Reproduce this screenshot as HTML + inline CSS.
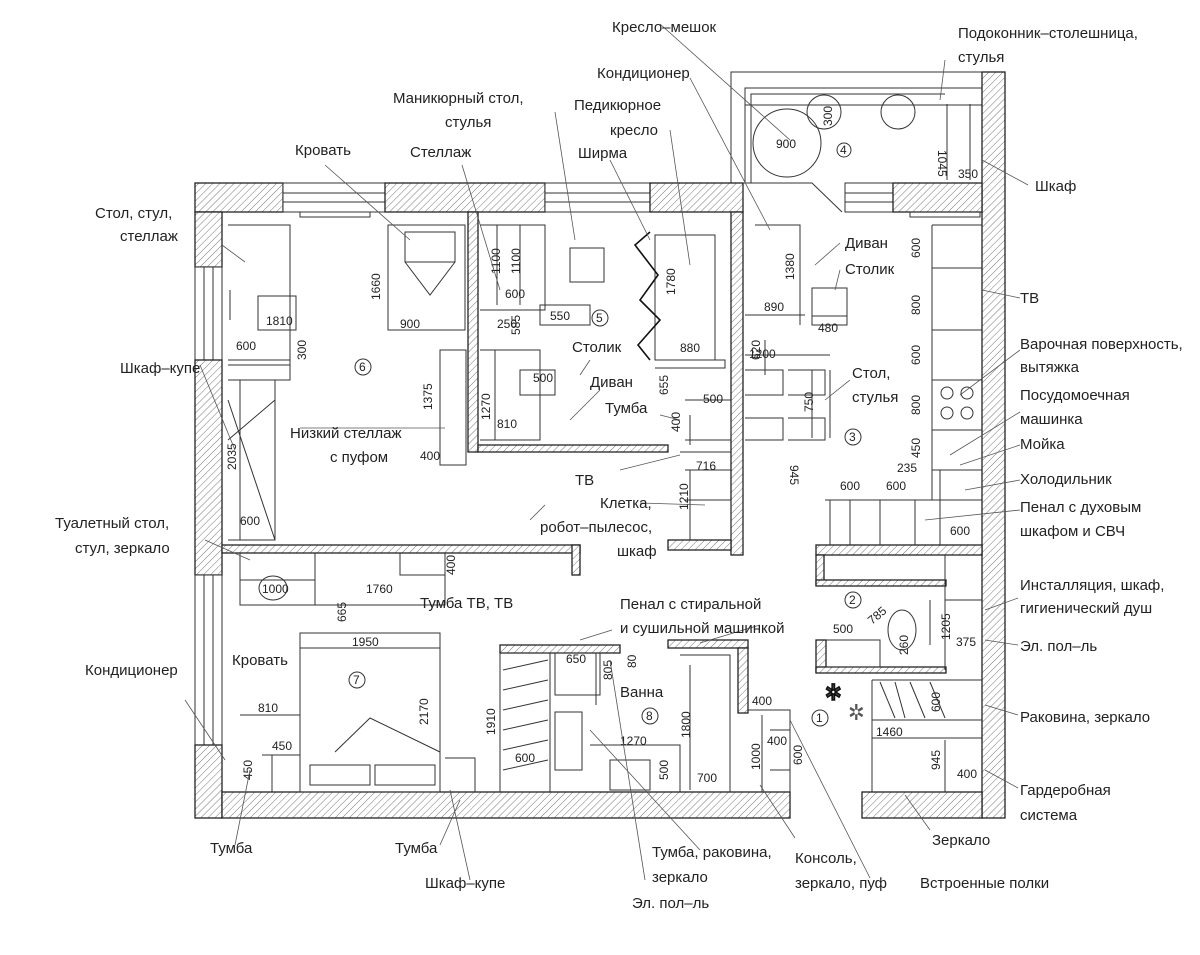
<!DOCTYPE html>
<html><head><meta charset="utf-8"><style>
html,body{margin:0;padding:0;background:#fff}
svg{display:block}
text{font-family:"Liberation Sans Narrow","Liberation Sans","DejaVu Sans Condensed",sans-serif;fill:#222}
.l{font-size:15px}
.d{font-size:12px}
.w{fill:url(#h);stroke:#222;stroke-width:1.3}
.f{fill:none;stroke:#333;stroke-width:1}
.k{fill:none;stroke:#111;stroke-width:1.6}
.ld{stroke:#555;stroke-width:0.8;fill:none}
.win{fill:#fff;stroke:#333;stroke-width:1}
</style></head><body>
<svg width="1200" height="955" viewBox="0 0 1200 955" xmlns="http://www.w3.org/2000/svg">
<defs><pattern id="h" width="5" height="5" patternUnits="userSpaceOnUse" patternTransform="rotate(45)"><rect width="5" height="5" fill="#fff"/><line x1="0" y1="0" x2="0" y2="5" stroke="#777" stroke-width="1"/></pattern></defs>

<!-- balcony -->
<path class="f" d="M731 183 V72 H982 M745 183 V88 H982 M751 183 V94 H945 M745 105 H982"/>
<rect class="w" x="982" y="72" width="23" height="746"/>
<circle class="f" cx="787" cy="143" r="34"/><circle class="f" cx="824" cy="112" r="17"/><circle class="f" cx="898" cy="112" r="17"/>
<text class="d" x="776" y="148">900</text><text class="d" x="832" y="126" transform="rotate(-90 832 126)">300</text>
<circle class="f" cx="844" cy="150" r="7"/><text class="d" x="840" y="154">4</text>
<path class="f" d="M947 104 V180 M970 104 V180"/><text class="d" x="958" y="178">350</text><text class="d" x="938" y="150" transform="rotate(90 938 150)">1045</text>

<!-- top wall -->
<rect class="w" x="195" y="183" width="88" height="29"/>
<rect class="win" x="283" y="183" width="102" height="29"/><path class="f" d="M283 193H385M283 202H385"/>
<rect class="w" x="385" y="183" width="160" height="29"/>
<rect class="win" x="545" y="183" width="105" height="29"/><path class="f" d="M545 193H650M545 202H650"/>
<rect class="w" x="650" y="183" width="93" height="29"/>
<path class="f" d="M743 183H812L842 212"/>
<rect class="win" x="845" y="183" width="48" height="29"/><path class="f" d="M845 193H893M845 202H893"/>
<rect class="w" x="893" y="183" width="89" height="29"/>
<rect class="f" x="300" y="212" width="70" height="5"/><rect class="f" x="910" y="212" width="70" height="5"/>

<!-- left wall -->
<rect class="w" x="195" y="212" width="27" height="55"/>
<rect class="win" x="195" y="267" width="27" height="93"/><path class="f" d="M204 267V360M213 267V360"/>
<rect class="w" x="195" y="360" width="27" height="215"/>
<rect class="win" x="195" y="575" width="27" height="170"/><path class="f" d="M204 575V745M213 575V745"/>
<rect class="w" x="195" y="745" width="27" height="73"/>

<!-- bottom wall -->
<rect class="w" x="222" y="792" width="568" height="26"/>
<rect class="w" x="862" y="792" width="120" height="26"/>

<!-- interior walls -->
<rect class="w" x="222" y="545" width="358" height="8"/><rect class="w" x="572" y="545" width="8" height="30"/>
<rect class="w" x="468" y="212" width="10" height="240"/>
<rect class="w" x="478" y="445" width="190" height="7"/>
<rect class="w" x="731" y="212" width="12" height="343"/>
<rect class="w" x="668" y="540" width="63" height="10"/>
<rect class="w" x="816" y="545" width="166" height="10"/>
<rect class="w" x="816" y="555" width="8" height="30"/><rect class="w" x="816" y="580" width="130" height="6"/>
<rect class="w" x="816" y="640" width="10" height="32"/><rect class="w" x="816" y="667" width="130" height="6"/>
<rect class="w" x="500" y="645" width="120" height="8"/><rect class="w" x="668" y="640" width="80" height="8"/>
<rect class="w" x="738" y="648" width="10" height="65"/>

<!-- room 6 furniture -->
<path class="f" d="M228 225H290V380H228 M230 290V320 M258 296H296V330H258Z M228 360H290 M228 365H290 V380"/>
<path class="f" d="M228 380H275V540H228 M240 380V540 M228 400L275 540 M228 440L275 400"/>
<path class="f" d="M388 225H465V330H388Z M405 232H455V262H405Z M405 262L430 295L455 262"/>
<path class="f" d="M440 350H466V465H440Z"/><text class="d" x="420" y="460">400</text>
<text class="d" x="400" y="328">900</text><text class="d" x="380" y="300" transform="rotate(-90 380 300)">1660</text>
<text class="d" x="266" y="325">1810</text><text class="d" x="236" y="350">600</text><text class="d" x="306" y="360" transform="rotate(-90 306 360)">300</text>
<text class="d" x="432" y="410" transform="rotate(-90 432 410)">1375</text><text class="d" x="236" y="470" transform="rotate(-90 236 470)">2035</text><text class="d" x="240" y="525">600</text>
<circle class="f" cx="363" cy="367" r="8"/><text class="d" x="359" y="371">6</text>

<!-- room 5 -->
<path class="f" d="M480 225H545V310H480 M497 225V305 M520 225V305 M540 305H590V325H540Z"/>
<rect class="f" x="570" y="248" width="34" height="34"/>
<path class="f" d="M655 235H715V360H655Z M655 360H725V368H655"/>
<path class="k" d="M650 232L635 245L658 275L640 300L660 320L638 345L650 360"/>
<path class="f" d="M480 350H540V440H480 M495 350V440 M520 370H555V395H520Z"/>
<text class="d" x="500" y="274" transform="rotate(-90 500 274)">1100</text><text class="d" x="520" y="274" transform="rotate(-90 520 274)">1100</text>
<text class="d" x="505" y="298">600</text><text class="d" x="497" y="328">250</text><text class="d" x="550" y="320">550</text><text class="d" x="520" y="335" transform="rotate(-90 520 335)">585</text>
<text class="d" x="490" y="420" transform="rotate(-90 490 420)">1270</text><text class="d" x="533" y="382">500</text><text class="d" x="497" y="428">810</text>
<text class="d" x="675" y="295" transform="rotate(-90 675 295)">1780</text><text class="d" x="680" y="352">880</text>
<circle class="f" cx="600" cy="318" r="8"/><text class="d" x="596" y="322">5</text>
<path class="f" d="M685 400H731V440H685 M690 415V445 M680 452H731 M685 470H731 M685 500H731V540 M690 470V540"/>
<text class="d" x="703" y="403">500</text><text class="d" x="668" y="395" transform="rotate(-90 668 395)">655</text><text class="d" x="680" y="432" transform="rotate(-90 680 432)">400</text>
<text class="d" x="696" y="470">716</text><text class="d" x="688" y="510" transform="rotate(-90 688 510)">1210</text>

<!-- kitchen room 3 -->
<path class="f" d="M755 225H800V315H755 M745 315H805 M800 225V325"/>
<rect class="f" x="812" y="288" width="35" height="37"/><path class="f" d="M812 316H847"/>
<text class="d" x="764" y="311">890</text><text class="d" x="794" y="280" transform="rotate(-90 794 280)">1380</text><text class="d" x="818" y="332">480</text>
<path class="f" d="M745 355H830 M765 340V375 M745 370H783V395H745 M788 370H825V395H788 M745 418H783V440H745 M788 418H825V440H788 M830 370V438 M812 370V438"/>
<text class="d" x="749" y="358">1200</text><text class="d" x="760" y="360" transform="rotate(-90 760 360)">620</text><text class="d" x="813" y="412" transform="rotate(-90 813 412)">750</text>
<circle class="f" cx="853" cy="437" r="8"/><text class="d" x="849" y="441">3</text>
<path class="f" d="M932 225H982 M932 225V500 M932 268H982 M932 330H982 M932 380H982 M932 430H982 M932 470H982 M825 500H982 M830 500V545 M850 500V545 M880 500V545 M915 500V545 M940 470V545"/>
<circle class="f" cx="947" cy="393" r="6"/><circle class="f" cx="967" cy="393" r="6"/><circle class="f" cx="947" cy="413" r="6"/><circle class="f" cx="967" cy="413" r="6"/>
<text class="d" x="920" y="258" transform="rotate(-90 920 258)">600</text><text class="d" x="920" y="315" transform="rotate(-90 920 315)">800</text>
<text class="d" x="920" y="365" transform="rotate(-90 920 365)">600</text><text class="d" x="920" y="415" transform="rotate(-90 920 415)">800</text><text class="d" x="920" y="458" transform="rotate(-90 920 458)">450</text>
<text class="d" x="897" y="472">235</text><text class="d" x="840" y="490">600</text><text class="d" x="886" y="490">600</text><text class="d" x="950" y="535">600</text>
<text class="d" x="805" y="480" transform="rotate(90 805 465)">945</text>

<!-- bathroom 2 -->
<path class="f" d="M945 555V670 M945 600H982 M930 600V645 M826 640H880V667H826"/>
<ellipse class="f" cx="902" cy="630" rx="14" ry="20"/>
<circle class="f" cx="853" cy="600" r="8"/><text class="d" x="849" y="604">2</text>
<text class="d" x="833" y="633">500</text><text class="d" x="872" y="625" transform="rotate(-40 872 625)">785</text><text class="d" x="908" y="655" transform="rotate(-90 908 655)">260</text>
<text class="d" x="945" y="645" transform="rotate(-90 945 640)">1205</text><text class="d" x="956" y="646">375</text>

<!-- wardrobe & hall -->
<path class="f" d="M872 680H982 M872 720H982 M872 738H982 M872 680V792 M945 740V792"/>
<path class="f" d="M880 682L895 718 M895 682L905 718 M910 682L925 718 M930 682L945 718"/>
<text class="d" x="876" y="736">1460</text><text class="d" x="940" y="712" transform="rotate(-90 940 712)">600</text><text class="d" x="940" y="770" transform="rotate(-90 940 770)">945</text><text class="d" x="957" y="778">400</text>
<circle class="f" cx="820" cy="718" r="8"/><text class="d" x="816" y="722">1</text>
<text class="k" x="825" y="700" style="font-size:22px;fill:#555">✲</text><text x="848" y="720" style="font-size:22px;fill:#555">✲</text>
<path class="f" d="M748 710H790V792 M762 715V792 M770 730H790V770H770"/>
<text class="d" x="752" y="705">400</text><text class="d" x="767" y="745">400</text><text class="d" x="760" y="770" transform="rotate(-90 760 770)">1000</text><text class="d" x="802" y="765" transform="rotate(-90 802 765)">600</text>

<!-- room 8 bath -->
<path class="f" d="M500 653H550V792 M500 653V792 M550 653H596V705 M555 653H600V695H555Z M555 712H582V770H555Z M590 745H680V792 M610 760H650V790H610Z M680 655H730V792 M690 665V790"/>
<path class="f" d="M503 670L548 660 M503 690L548 680 M503 710L548 700 M503 730L548 720 M503 750L548 740 M503 770L548 760"/>
<text class="d" x="566" y="663">650</text><text class="d" x="612" y="680" transform="rotate(-90 612 680)">805</text><text class="d" x="636" y="668" transform="rotate(-90 636 668)">80</text>
<circle class="f" cx="650" cy="716" r="8"/><text class="d" x="646" y="720">8</text>
<text class="d" x="620" y="745">1270</text><text class="d" x="690" y="738" transform="rotate(-90 690 738)">1800</text><text class="d" x="668" y="780" transform="rotate(-90 668 780)">500</text><text class="d" x="697" y="782">700</text>
<text class="d" x="495" y="735" transform="rotate(-90 495 735)">1910</text><text class="d" x="515" y="762">600</text>

<!-- room 7 -->
<path class="f" d="M240 553V605H445V553 M315 553V605 M400 553V575H445 M240 580H315"/>
<ellipse class="f" cx="273" cy="588" rx="14" ry="12"/>
<path class="f" d="M300 633H440V792H300Z M300 648H440 M335 752L370 718L440 752 M240 715H300 M262 755H300V792 M272 755V792 M310 765H370V785H310Z M375 765H435V785H375Z M445 758H475V792"/>
<text class="d" x="262" y="593">1000</text><text class="d" x="366" y="593">1760</text><text class="d" x="455" y="575" transform="rotate(-90 455 575)">400</text>
<text class="d" x="346" y="622" transform="rotate(-90 346 622)">665</text><text class="d" x="352" y="646">1950</text><text class="d" x="428" y="725" transform="rotate(-90 428 725)">2170</text>
<text class="d" x="258" y="712">810</text><text class="d" x="272" y="750">450</text><text class="d" x="252" y="780" transform="rotate(-90 252 780)">450</text>
<circle class="f" cx="357" cy="680" r="8"/><text class="d" x="353" y="684">7</text>
<text class="d" x="575" y="485" style="font-size:15px">TB</text>

<!-- leader lines -->
<path class="ld" d="M660 24L790 140 M690 78L770 230 M555 112L575 240 M670 130L690 265 M610 160L650 240 M325 165L410 240 M462 165L500 290 M222 245L245 262 M945 60L940 100 M1028 185L982 160 M1020 298L982 290 M1020 350L960 395 M1020 412L950 455 M1020 445L960 465 M1020 480L965 490 M1020 510L925 520 M1018 598L985 610 M1018 645L985 640 M1018 715L985 705 M1018 788L985 770 M930 830L905 795 M870 878L790 720 M795 838L760 785 M700 850L590 730 M645 880L610 660 M440 845L460 800 M470 880L450 790 M235 845L250 770 M205 540L250 560 M185 700L225 760 M200 365L235 450 M300 428L445 428 M620 470L680 455 M660 415L680 420 M590 360L580 375 M600 390L570 420 M640 503L705 505 M545 505L530 520 M700 643L760 625 M612 630L580 640 M840 243L815 265 M840 270L835 290 M850 380L825 400"/>

<!-- labels -->
<g class="l">
<text x="612" y="32">Кресло–мешок</text>
<text x="958" y="38">Подоконник–столешница,</text><text x="958" y="62">стулья</text>
<text x="597" y="78">Кондиционер</text>
<text x="393" y="103">Маникюрный стол,</text><text x="445" y="127">стулья</text>
<text x="574" y="110">Педикюрное</text><text x="610" y="135">кресло</text>
<text x="578" y="158">Ширма</text>
<text x="295" y="155">Кровать</text><text x="410" y="157">Стеллаж</text>
<text x="1035" y="191">Шкаф</text>
<text x="95" y="218">Стол, стул,</text><text x="120" y="241">стеллаж</text>
<text x="845" y="248">Диван</text><text x="845" y="274">Столик</text>
<text x="1020" y="303">ТВ</text>
<text x="1020" y="349">Варочная поверхность,</text><text x="1020" y="372">вытяжка</text>
<text x="120" y="373">Шкаф–купе</text>
<text x="572" y="352">Столик</text><text x="590" y="387">Диван</text><text x="605" y="413">Тумба</text>
<text x="852" y="378">Стол,</text><text x="852" y="402">стулья</text>
<text x="1020" y="400">Посудомоечная</text><text x="1020" y="424">машинка</text>
<text x="1020" y="449">Мойка</text>
<text x="290" y="438">Низкий стеллаж</text><text x="330" y="462">с пуфом</text>
<text x="1020" y="484">Холодильник</text>
<text x="600" y="508">Клетка,</text><text x="540" y="532">робот–пылесос,</text><text x="617" y="556">шкаф</text>
<text x="1020" y="512">Пенал с духовым</text><text x="1020" y="536">шкафом и СВЧ</text>
<text x="55" y="528">Туалетный стол,</text><text x="75" y="553">стул, зеркало</text>
<text x="1020" y="590">Инсталляция, шкаф,</text><text x="1020" y="613">гигиенический душ</text>
<text x="420" y="608">Тумба ТВ, ТВ</text>
<text x="620" y="609">Пенал с стиральной</text><text x="620" y="633">и сушильной машинкой</text>
<text x="1020" y="651">Эл. пол–ль</text>
<text x="232" y="665">Кровать</text>
<text x="85" y="675">Кондиционер</text>
<text x="620" y="697">Ванна</text>
<text x="1020" y="722">Раковина, зеркало</text>
<text x="1020" y="795">Гардеробная</text><text x="1020" y="820">система</text>
<text x="932" y="845">Зеркало</text>
<text x="210" y="853">Тумба</text><text x="395" y="853">Тумба</text>
<text x="652" y="857">Тумба, раковина,</text><text x="652" y="882">зеркало</text>
<text x="795" y="863">Консоль,</text><text x="795" y="888">зеркало, пуф</text>
<text x="920" y="888">Встроенные полки</text>
<text x="425" y="888">Шкаф–купе</text>
<text x="632" y="908">Эл. пол–ль</text>
</g>
</svg>
</body></html>
